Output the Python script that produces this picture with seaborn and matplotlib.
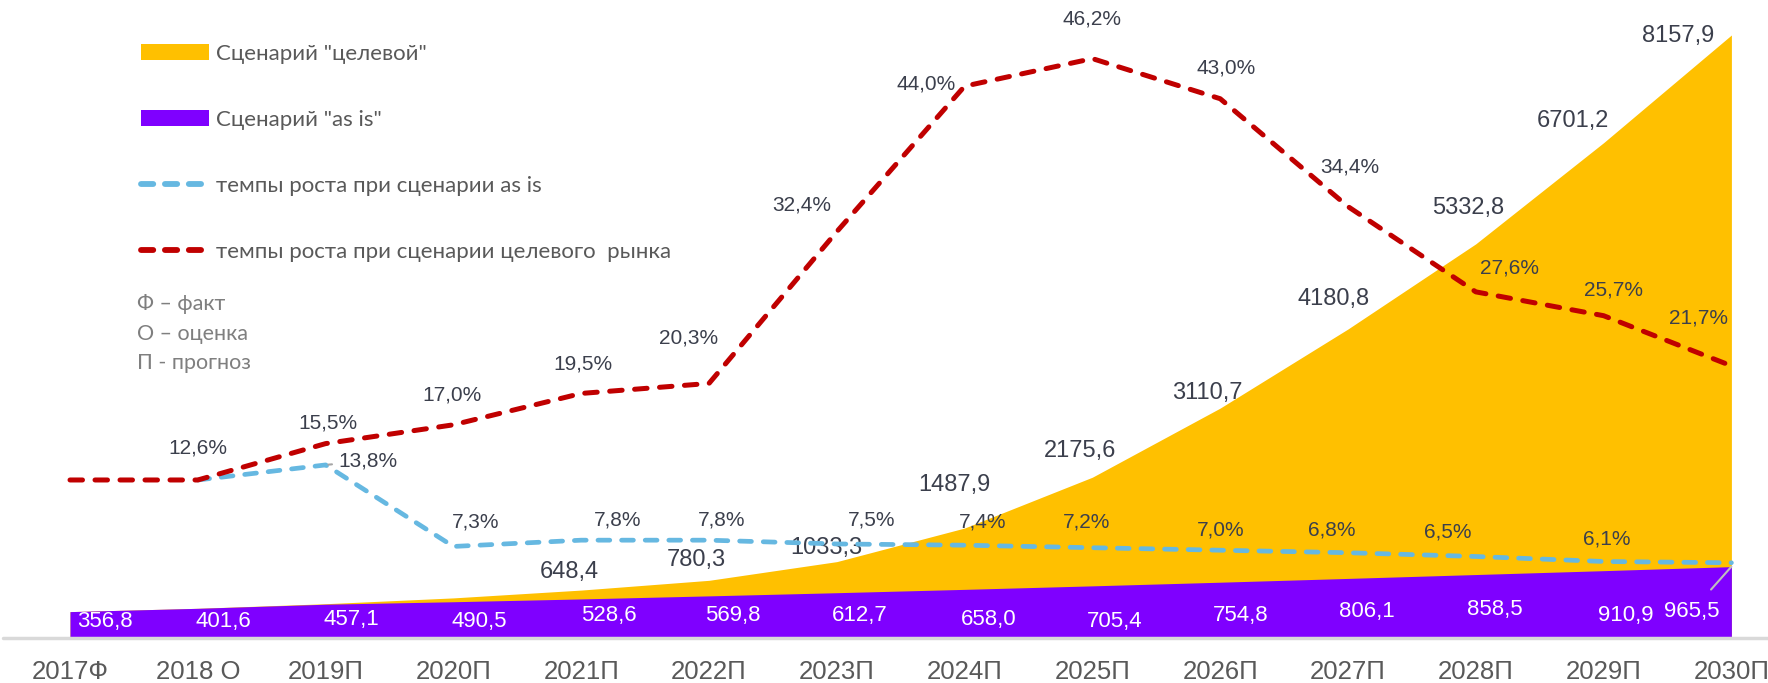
import matplotlib
matplotlib.use("Agg")
import matplotlib.pyplot as plt
import seaborn as sns
import pandas as pd
from matplotlib.patches import Patch
from matplotlib.lines import Line2D

# ---------------- data ----------------
years = ["2017Ф", "2018 О", "2019П", "2020П", "2021П", "2022П", "2023П",
         "2024П", "2025П", "2026П", "2027П", "2028П", "2029П", "2030П"]
target_market = [356.8, 401.6, 463.8, 542.6, 648.4, 780.3, 1033.3, 1487.9,
                 2175.6, 3110.7, 4180.8, 5332.8, 6701.2, 8157.9]
asis_market = [356.8, 401.6, 457.1, 490.5, 528.6, 569.8, 612.7, 658.0,
               705.4, 754.8, 806.1, 858.5, 910.9, 965.5]
growth_target = [12.6, 12.6, 15.5, 17.0, 19.5, 20.3, 32.4, 44.0, 46.2,
                 43.0, 34.4, 27.6, 25.7, 21.7]
growth_asis = [None, 12.6, 13.8, 7.3, 7.8, 7.8, 7.5, 7.4, 7.2, 7.0,
               6.8, 6.5, 6.1, 6.0]

legend_labels = ['Сценарий "целевой"', 'Сценарий "as is"',
                 'темпы роста при сценарии as is',
                 'темпы роста при сценарии целевого  рынка']
notes = ["Ф – факт", "О – оценка", "П - прогноз"]

# ---------------- style ----------------
YELLOW = "#FFC000"
PURPLE = "#7F00FF"
BLUE = "#66B8E1"
RED = "#C00000"
DARK = "#3B3F4C"
GRAY = "#595959"

sns.set_theme(style="white")
plt.rcParams["font.family"] = ["Liberation Sans", "DejaVu Sans"]

W, H = 1768, 683
fig = plt.figure(figsize=(W / 100, H / 100), dpi=100)
base_px = 638          # baseline y from top
x0_px, step_px = 70, 127.8

ax = fig.add_axes([0, (H - base_px) / H, 1, base_px / H])
ax2 = ax.twinx()

df = pd.DataFrame({"i": range(len(years)), "year": years,
                   "target": target_market, "asis": asis_market,
                   "g_target": growth_target, "g_asis": growth_asis})

# areas
ax.fill_between(df["i"], 0, df["target"], color=YELLOW, lw=0, zorder=1)
ax.fill_between(df["i"], 0, df["asis"], color=PURPLE, lw=0, zorder=2)

ax.set_xlim(-x0_px / step_px, (W - x0_px) / step_px)
ax.set_ylim(0, 8157.9 * base_px / (base_px - 35))
ax2.set_ylim(0, 46.2 * base_px / (base_px - 58.6))

# lines
sns.lineplot(data=df, x="i", y="g_asis", ax=ax2, color=BLUE, lw=3.4)
sns.lineplot(data=df, x="i", y="g_target", ax=ax2, color=RED, lw=3.6)
for ln in ax2.lines:
    ln.set_dashes((2.5, 2.5))
    ln.set_dash_capstyle("round")
    ln.set_solid_joinstyle("round")

# baseline
ax.axhline(0, xmin=3 / W, xmax=1, color="#D9D9D9", lw=2.5, zorder=5, clip_on=False)

for a in (ax, ax2):
    for s in a.spines.values():
        s.set_visible(False)
    a.set_ylabel("")
    a.set_xlabel("")
    a.set_yticks([])
ax2.set_xlim(ax.get_xlim())

ax.set_xticks(df["i"])
ax.set_xticklabels(years, fontsize=18.5, color=GRAY)
ax.tick_params(axis="x", length=0, pad=16)

def fmt(v, pct=False):
    s = f"{v:.1f}".replace(".", ",")
    return s + "%" if pct else s

# label offsets (pixels) - layout only
target_off = {4: (-12, 18), 5: (-13, 20), 6: (-10, 14), 7: (-10, 43), 8: (-12, 26),
              9: (-13, 15), 10: (-14, 30), 11: (-8, 36), 12: (-31, 22), 13: (-53, -1)}
asis_off = [(35, 17), (26, 17), (26, 19), (26, 17), (28, 23), (24, 22), (23, 22),
            (24, 19), (22, 17), (20, 22), (19, 26), (19, 28), (22, 22), (-40, 26)]
gt_off = {1: (0, 32), 2: (2, 21), 3: (-1, 30), 4: (2, 29), 5: (-20, 45), 6: (-35, 27),
          7: (-38, 2), 8: (0, 40), 9: (6, 31), 10: (2, 40), 11: (34, 24),
          12: (10, 26), 13: (-33, 48)}
ga_off = {2: (42, 4), 3: (22, 24), 4: (36, 20), 5: (13, 20), 6: (35, 24), 7: (18, 23),
          8: (-6, 26), 9: (0, 20), 10: (-16, 23), 11: (-28, 24), 12: (3, 22)}

for i, (dx, dy) in target_off.items():
    ax.annotate(fmt(target_market[i]), (i, target_market[i]), xytext=(dx, dy),
                textcoords="offset pixels", ha="center", va="center",
                fontsize=17, color=DARK, zorder=10)
last = len(asis_off) - 1
for i, (dx, dy) in enumerate(asis_off):
    if i == last:
        ax.annotate(fmt(asis_market[i]), xy=(i, asis_market[i]),
                    xytext=(dx, dy - 71), textcoords="offset pixels",
                    ha="center", va="center", fontsize=16, color="white", zorder=10,
                    arrowprops=dict(arrowstyle="-", color="#BFBFBF", lw=1.5,
                                    shrinkA=8, shrinkB=0))
    else:
        ax.annotate(fmt(asis_market[i]), (i, 0), xytext=(dx, dy),
                    textcoords="offset pixels", ha="center", va="center",
                    fontsize=16, color="white", zorder=10)
for i, (dx, dy) in gt_off.items():
    ax2.annotate(fmt(growth_target[i], True), (i, growth_target[i]), xytext=(dx, dy),
                 textcoords="offset pixels", ha="center", va="center",
                 fontsize=15, color=DARK, zorder=10)
for i, (dx, dy) in ga_off.items():
    kw = {}
    if i == 2:
        kw = dict(arrowprops=dict(arrowstyle="-", color="#A6A6A6", lw=1.5,
                                  shrinkA=2, shrinkB=2))
    ax2.annotate(fmt(growth_asis[i], True), (i, growth_asis[i]), xytext=(dx, dy),
                 textcoords="offset pixels", ha="center", va="center",
                 fontsize=15, color=DARK, zorder=10, **kw)

# legend
handles = [Patch(facecolor=YELLOW, edgecolor="none"),
           Patch(facecolor=PURPLE, edgecolor="none"),
           Line2D([], [], color=BLUE, lw=4.2, dashes=(2.1, 2.0), dash_capstyle="round"),
           Line2D([], [], color=RED, lw=4.2, dashes=(2.1, 2.0), dash_capstyle="round")]
leg = fig.legend(handles, legend_labels, loc="upper left",
                 bbox_to_anchor=(141 / W, 1 - 44 / H), frameon=False,
                 prop={"family": ["Lato", "DejaVu Sans"], "size": 16},
                 handlelength=3.05, handleheight=0.72, handletextpad=0.32,
                 labelspacing=2.07, borderpad=0, borderaxespad=0)
for t in leg.get_texts():
    t.set_color(GRAY)

for k, n in enumerate(notes):
    fig.text(137 / W, 1 - (304 + 29.5 * k) / H, n, ha="left", va="center",
             fontsize=15.5, color="#7F7F7F", family=["Lato", "DejaVu Sans"])

fig.savefig("out.png", dpi=100)
